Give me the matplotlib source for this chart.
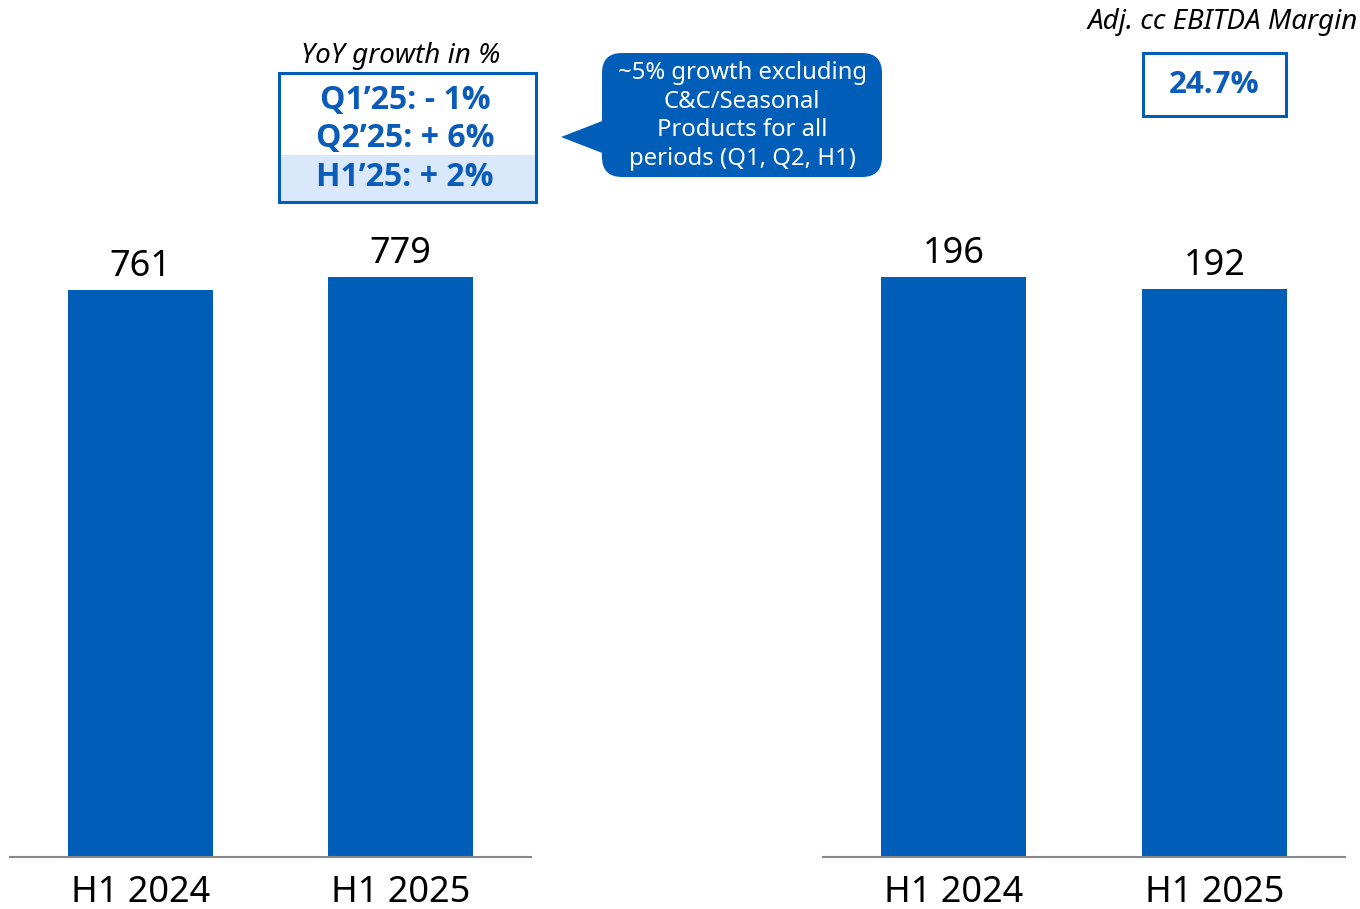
import matplotlib
matplotlib.use("Agg")
import matplotlib.pyplot as plt
from matplotlib.patches import FancyBboxPatch, Rectangle, Polygon

plt.rcParams['font.family'] = ['Noto Sans', 'DejaVu Sans']
BOLD_FAMILY = ['Open Sans', 'Noto Sans', 'DejaVu Sans']

# Data
periods = ["H1 2024", "H1 2025"]
revenue = [761, 779]
ebitda = [196, 192]
growth_lines = ["Q1\u201925: - 1%", "Q2\u201925: + 6%", "H1\u201925: + 2%"]
growth_title = "YoY growth in %"
callout_text = "~5% growth excluding\nC&C/Seasonal\nProducts for all\nperiods (Q1, Q2, H1)"
margin_title = "Adj. cc EBITDA Margin"
margin_value = "24.7%"

BLUE = "#005EB8"
TEXT_BLUE = "#0A5CB8"
LIGHT = "#D9E9FB"
W, H = 1360, 909

fig = plt.figure(figsize=(W / 100, H / 100), dpi=100)
fig.patch.set_facecolor("white")


def bar_panel(x0, x1, values, ymax):
    ax = fig.add_axes([x0 / W, 52 / H, (x1 - x0) / W, 857 / H])
    xs = range(len(values))
    ax.bar(xs, values, width=0.556, color=BLUE, zorder=2)
    ax.set_xlim(-0.5, 1.5)
    ax.set_ylim(0, ymax)
    for s in ["top", "right", "left"]:
        ax.spines[s].set_visible(False)
    ax.spines["bottom"].set_color("#888888")
    ax.spines["bottom"].set_linewidth(1.5)
    ax.set_yticks([])
    ax.set_xticks(list(xs))
    ax.set_xticklabels(periods, fontsize=26)
    ax.tick_params(axis="x", length=0, pad=13)
    for x, v in zip(xs, values):
        ax.text(x, v + ymax * 0.006, f"{v}", ha="center", va="bottom",
                fontsize=26, color="black")
    ax.patch.set_alpha(0)
    return ax


bar_panel(10, 531, revenue, 1150.7)
bar_panel(823, 1345, ebitda, 289.6)

# Overlay in pixel coordinates for the annotation boxes
ov = fig.add_axes([0, 0, 1, 1])
ov.set_xlim(0, W)
ov.set_ylim(H, 0)
ov.axis("off")
ov.patch.set_alpha(0)

# Growth box
ov.text(401, 56, growth_title, ha="center", va="center", fontsize=20,
        style="italic", color="black")
ov.add_patch(Rectangle((280, 155), 255, 46, facecolor=LIGHT, edgecolor="none"))
ov.add_patch(Rectangle((279, 73), 257, 129, facecolor="none",
                       edgecolor=BLUE, linewidth=2.2))
for y, t in zip([100, 138, 177], growth_lines):
    ov.text(405, y, t, ha="center", va="center", fontsize=23,
            fontweight="bold", family=BOLD_FAMILY, color=TEXT_BLUE)

# Speech-bubble callout
ov.add_patch(Polygon([[561, 137], [610, 118], [610, 156]], closed=True,
                     facecolor=BLUE, edgecolor="none"))
ov.add_patch(FancyBboxPatch((602, 53), 280, 124,
                            boxstyle="round,pad=0,rounding_size=20",
                            facecolor=BLUE, edgecolor="none"))
ov.text(742, 116, callout_text, ha="center", va="center", fontsize=17.2,
        color="white", linespacing=1.25)

# EBITDA margin box
ov.text(1358, 22, margin_title, ha="right", va="center", fontsize=20,
        style="italic", color="black")
ov.add_patch(Rectangle((1143, 53), 143, 63, facecolor="white",
                       edgecolor=BLUE, linewidth=2.2))
ov.text(1214, 85, margin_value, ha="center", va="center", fontsize=22.5,
        fontweight="bold", family=BOLD_FAMILY, color=TEXT_BLUE)

fig.savefig("out.png", dpi=100, facecolor="white")
